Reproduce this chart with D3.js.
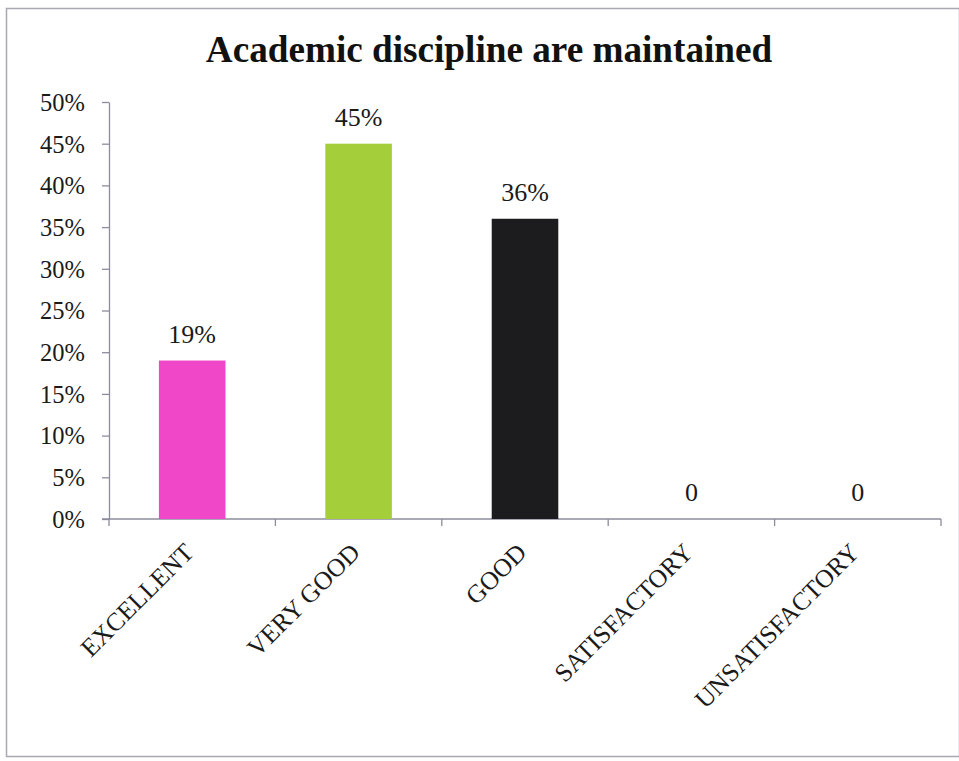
<!DOCTYPE html>
<html><head><meta charset="utf-8">
<script src="https://cdn.jsdelivr.net/npm/d3@7"></script>
<style>body{margin:0;background:#fff}svg{display:block}</style>
</head><body>
<script>
const categories = ["EXCELLENT","VERY GOOD","GOOD","SATISFACTORY","UNSATISFACTORY"];
const values = [0.19, 0.45, 0.36, 0, 0];
const valueLabels = ["19%","45%","36%","0","0"];
const colors = ["#f046c8","#a4cf3a","#1c1b1d","#888","#888"];
const yTicks = [0,0.05,0.10,0.15,0.20,0.25,0.30,0.35,0.40,0.45,0.50];
const title = "Academic discipline are maintained";

const W=959,H=761;
const svg=d3.select("body").append("svg").attr("width",W).attr("height",H);
const serif="\"Liberation Serif\", \"Times New Roman\", serif";
svg.append("rect").attr("x",6.5).attr("y",8.5).attr("width",W-6).attr("height",748)
  .attr("fill","#fff").attr("stroke","#a9a9b3").attr("stroke-width",1.5);

const t=svg.append("text").attr("x",489).attr("y",62).attr("text-anchor","middle")
  .style("font-family",serif).style("font-weight","bold").style("font-size","32px").style("fill","#111").text(title);
const len=t.node().getComputedTextLength();
t.style("font-size",(32*567/len).toFixed(1)+"px");

const x0=109,x1=941,yTop=102,yBot=519;
const x=d3.scaleBand().domain(categories).range([x0,x1]).paddingInner(0).paddingOuter(0);
const y=d3.scaleLinear().domain([0,0.5]).range([yBot,yTop]);

const ya=svg.append("g").attr("transform",`translate(${x0},0)`)
  .call(d3.axisLeft(y).tickValues(yTicks).tickFormat(d3.format(".0%")).tickSize(7).tickSizeOuter(0).tickPadding(17));
ya.attr("font-family",null);
ya.select(".domain").attr("stroke","#8c8c9c").attr("stroke-width",1.3);
ya.selectAll(".tick line").attr("stroke","#8c8c9c").attr("stroke-width",1.3);
ya.selectAll("text").style("font-family",serif).style("font-size","24.5px").style("fill","#1a1a1a").attr("dy","0.34em");

svg.append("line").attr("x1",x0-7).attr("x2",x1).attr("y1",yBot).attr("y2",yBot).attr("stroke","#8c8c9c").attr("stroke-width",1.3);
const bounds=categories.map(c=>x(c)).concat([x(categories[categories.length-1])+x.bandwidth()]);
svg.selectAll(".xt").data(bounds).join("line").attr("x1",d=>d).attr("x2",d=>d)
  .attr("y1",yBot).attr("y2",yBot+7).attr("stroke","#8c8c9c").attr("stroke-width",1.3);

const bw=x.bandwidth()*0.4;
svg.selectAll(".bar").data(categories).join("rect")
  .attr("x",(c)=>x(c)+(x.bandwidth()-bw)/2).attr("width",bw)
  .attr("y",(c,i)=>y(values[i])).attr("height",(c,i)=>yBot-y(values[i]))
  .attr("fill",(c,i)=>colors[i]);

svg.selectAll(".vl").data(categories).join("text")
  .attr("x",c=>x(c)+x.bandwidth()/2).attr("y",(c,i)=>y(values[i])-18)
  .attr("text-anchor","middle").style("font-family",serif).style("font-size","26px").style("fill","#1a1a1a")
  .text((c,i)=>valueLabels[i]);

svg.selectAll(".cl").data(categories).join("text")
  .attr("transform",c=>`translate(${x(c)+x.bandwidth()/2+3},${yBot+35}) rotate(-45)`)
  .attr("text-anchor","end").style("font-family",serif).style("font-size","25.5px").style("fill","#1a1a1a")
  .text(c=>c);
</script>
</body></html>
